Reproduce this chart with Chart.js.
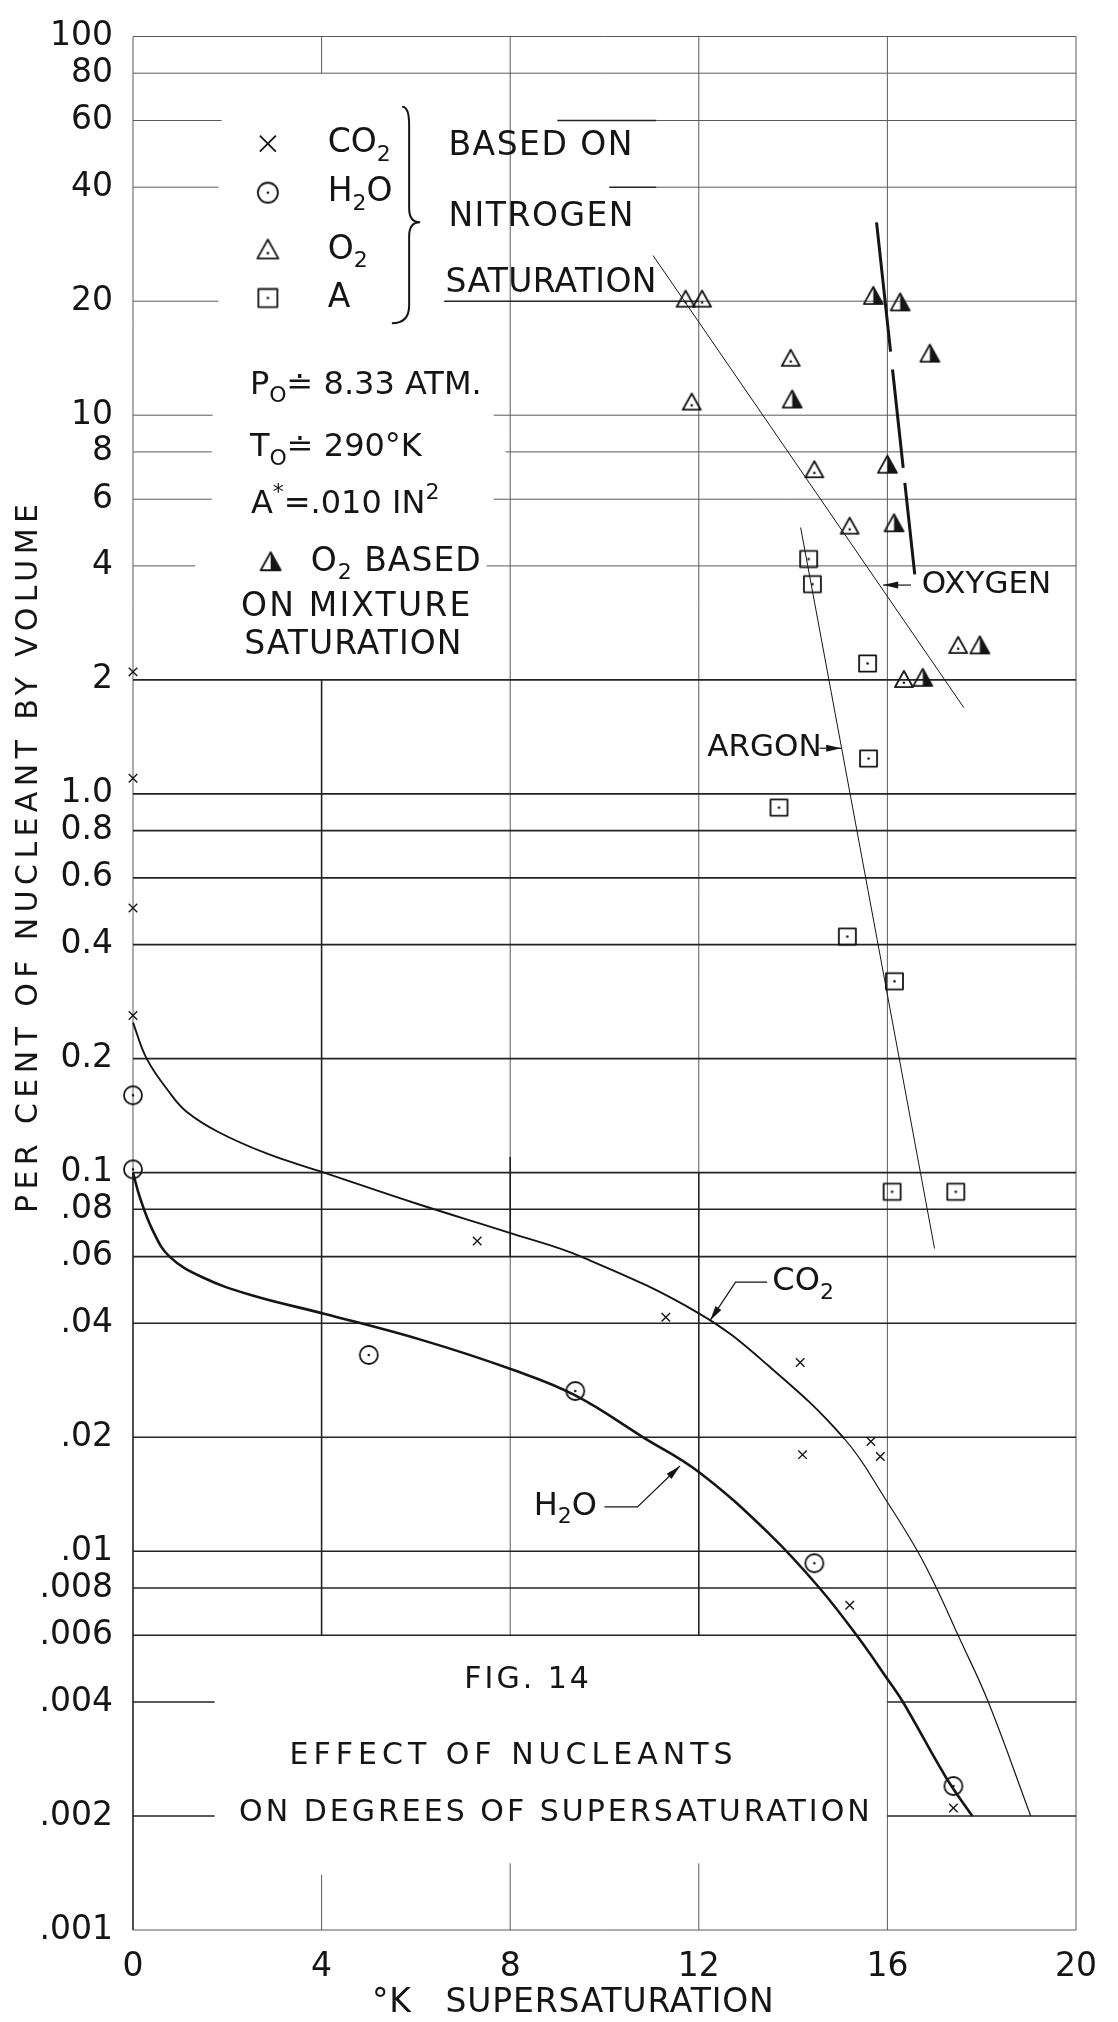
<!DOCTYPE html>
<html lang="en">
<head>
<meta charset="utf-8">
<title>Fig. 14 Effect of nucleants on degrees of supersaturation</title>
<script src="https://cdn.jsdelivr.net/npm/chart.js@4.4.1/dist/chart.umd.min.js"></script>
<style>
  html, body { margin: 0; padding: 0; background: #fff; }
  #box { position: relative; width: 1118px; height: 2022px; }
</style>
</head>
<body>
<div id="box"><canvas id="fig14"></canvas></div>
<script>
// ==== Data ====
const xTicks = [0, 4, 8, 12, 16, 20];
const yTicks = [100, 80, 60, 40, 20, 10, 8, 6, 4, 2, 1, 0.8, 0.6, 0.4, 0.2, 0.1,
  0.08, 0.06, 0.04, 0.02, 0.01, 0.008, 0.006, 0.004, 0.002, 0.001];
const yTickLabels = ["100", "80", "60", "40", "20", "10", "8", "6", "4", "2", "1.0", "0.8",
  "0.6", "0.4", "0.2", "0.1", ".08", ".06", ".04", ".02", ".01", ".008", ".006", ".004", ".002", ".001"];

// measured points (based on nitrogen saturation)
const co2X = [0, 0, 0, 0, 7.3, 11.3, 14.15, 14.2, 15.65, 15.85, 15.2, 20.25, 17.4];
const co2Y = [2.1, 1.1, 0.5, 0.26, 0.066, 0.0415, 0.0315, 0.018, 0.0195, 0.0178, 0.0072, 0.0065, 0.0021];
const h2oX = [0, 0, 5.0, 9.38, 14.45, 17.4];
const h2oY = [0.16, 0.102, 0.033, 0.0265, 0.0093, 0.0024];
const o2X = [11.72, 12.07, 11.85, 13.95, 14.45, 15.2, 16.35, 17.5];
const o2Y = [20.2, 20.2, 10.8, 14.1, 7.16, 5.08, 2.0, 2.46];
const argonX = [14.33, 14.41, 15.58, 15.6, 13.7, 15.15, 16.15, 16.1, 17.45];
const argonY = [4.17, 3.58, 2.21, 1.24, 0.92, 0.42, 0.32, 0.089, 0.089];
// O2 based on mixture saturation
const o2MixX = [15.7, 16.27, 16.9, 13.98, 16.0, 16.14, 16.75, 17.96];
const o2MixY = [20.6, 19.8, 14.5, 10.97, 7.38, 5.17, 2.02, 2.46];

// faired curves and straight fits
const co2CurveX = [0, 0.29, 0.77, 1.13, 1.81, 2.86, 4.05, 5.99, 8.09, 9.53, 12.0, 13.49, 15.09, 15.98, 16.64, 17.06, 17.5, 18.14, 19.04];
const co2CurveY = [0.249, 0.2, 0.163, 0.145, 0.128, 0.112, 0.1, 0.083, 0.0687, 0.0598, 0.0425, 0.0308, 0.0198, 0.0136, 0.01, 0.0079, 0.006, 0.004, 0.002];
const h2oCurveX = [0, 0.15, 0.42, 0.77, 1.46, 2.5, 4.05, 6.17, 8.07, 9.38, 10.82, 12.0, 13.5, 14.56, 15.39, 16.0, 16.33, 17.25, 17.8];
const h2oCurveY = [0.1, 0.0857, 0.0703, 0.0601, 0.053, 0.0475, 0.0424, 0.036, 0.0301, 0.0258, 0.02, 0.0162, 0.0111, 0.008, 0.0059, 0.0046, 0.004, 0.00252, 0.002];
const oxygenFitX = [11.03, 17.62];
const oxygenFitY = [26.4, 1.69];
const oxygenMixFitX = [15.77, 16.58];
const oxygenMixFitY = [32.3, 3.8];
const argonFitX = [14.16, 17.0];
const argonFitY = [5.05, 0.063];

// ==== Look ====
const INK = "#151515";
const FONT = '"DejaVu Sans", "Liberation Sans", sans-serif';

const pts = (xs, ys) => xs.map((x, i) => ({ x, y: ys[i] }));

// hand drawn symbols with the centre dot
function makeMarker(kind, size) {
  const n = Math.ceil(size + 8);
  const c = document.createElement("canvas");
  c.width = n; c.height = n;
  const g = c.getContext("2d");
  const m = n / 2, r = size / 2;
  g.strokeStyle = INK; g.fillStyle = INK; g.lineWidth = 1.8; g.lineJoin = "round";
  const dot = (dy) => { g.beginPath(); g.arc(m, m + dy, 1.3, 0, Math.PI * 2); g.fill(); };
  if (kind === "circle") {
    g.beginPath(); g.arc(m, m, r, 0, Math.PI * 2); g.stroke(); dot(0);
  } else if (kind === "square") {
    g.strokeRect(m - r, m - r * 0.95, size, size * 0.95); dot(0);
  } else {
    g.beginPath();
    g.moveTo(m, m - r); g.lineTo(m + r, m + r * 0.8); g.lineTo(m - r, m + r * 0.8); g.closePath();
    g.stroke();
    if (kind === "half") {
      g.beginPath();
      g.moveTo(m, m - r); g.lineTo(m + r, m + r * 0.8); g.lineTo(m, m + r * 0.8); g.closePath();
      g.fill();
    } else dot(r * 0.3);
  }
  return c;
}
const marks = {
  circle: makeMarker("circle", 18), square: makeMarker("square", 17),
  triangle: makeMarker("triangle", 18), half: makeMarker("half", 19)
};
const bigMarks = {
  circle: makeMarker("circle", 20), square: makeMarker("square", 19),
  triangle: makeMarker("triangle", 21), half: makeMarker("half", 20)
};

// ==== Paper grid (data units: x0, y0, x1, y1) ====
const gridLight = [
  [0, 100, 20, 100], [0, 80, 20, 80],
  [0, 60, 1.88, 60], [11.1, 60, 20, 60], [0, 40, 1.81, 40], [11.1, 40, 20, 40],
  [0, 20, 1.81, 20], [12, 20, 20, 20], [0, 10, 1.69, 10], [7.65, 10, 20, 10],
  [0, 8, 1.67, 8], [7.9, 8, 20, 8], [0, 6, 1.67, 6], [7.65, 6, 20, 6],
  [0, 4, 1.32, 4], [7.5, 4, 20, 4], [0, 0.001, 20, 0.001],
  [0, 0.1, 0, 100], [4, 80, 4, 100], [8, 0.006, 8, 100], [12, 0.1, 12, 100],
  [16, 0.001, 16, 100], [20, 0.001, 20, 100],
  [4, 0.001, 4, 0.0014], [8, 0.001, 8, 0.0015], [12, 0.001, 12, 0.0015]
];
const gridDark = [
  [9.0, 60, 11.1, 60], [10.1, 40, 11.1, 40], [6.6, 20, 12, 20],
  [0, 2, 20, 2], [0, 1, 20, 1], [0, 0.8, 20, 0.8], [0, 0.6, 20, 0.6], [0, 0.4, 20, 0.4],
  [0, 0.2, 20, 0.2], [0, 0.1, 20, 0.1], [0, 0.08, 20, 0.08], [0, 0.06, 20, 0.06],
  [0, 0.04, 20, 0.04], [0, 0.02, 20, 0.02], [0, 0.01, 20, 0.01], [0, 0.008, 20, 0.008],
  [0, 0.006, 20, 0.006], [0, 0.004, 1.73, 0.004], [16, 0.004, 20, 0.004],
  [0, 0.002, 1.73, 0.002], [16, 0.002, 20, 0.002],
  [0, 0.001, 0, 0.1], [4, 0.006, 4, 2], [12, 0.006, 12, 0.1], [8, 0.06, 8, 0.11]
];

// ==== Lettering ====
const notes = [
  { at: [4.13, 52.1], parts: [["CO"], ["2", "sub"]], size: 33 },
  { at: [4.13, 38.7], parts: [["H"], ["2", "sub"], ["O"]], size: 33 },
  { at: [4.13, 27.3], parts: [["O"], ["2", "sub"]], size: 33 },
  { at: [4.13, 20.4], parts: [["A"]], size: 33 },
  { at: [6.69, 51.2], parts: [["BASED ON"]], size: 33, sp: 1.5 },
  { at: [6.69, 33.3], parts: [["NITROGEN"]], size: 33, sp: 1.5 },
  { at: [6.63, 22.3], parts: [["SATURATION"]], size: 33, sp: 0.3 },
  { at: [2.48, 12.0], parts: [["P"], ["O", "sub"], ["≐ 8.33 ATM."]], size: 32 },
  { at: [2.48, 8.19], parts: [["T"], ["O", "sub"], ["≐ 290°K"]], size: 32 },
  { at: [2.5, 5.81], parts: [["A"], ["*", "sup"], ["=.010 IN"], ["2", "sup"]], size: 32 },
  { at: [3.77, 4.09], parts: [["O"], ["2", "sub"], [" BASED"]], size: 33, sp: 1 },
  { at: [2.29, 3.10], parts: [["ON MIXTURE"]], size: 33, sp: 2.2 },
  { at: [2.36, 2.46], parts: [["SATURATION"]], size: 33, sp: 1 },
  { at: [16.73, 3.56], parts: [["OXYGEN"]], size: 31 },
  { at: [12.18, 1.32], parts: [["ARGON"]], size: 31 },
  { at: [13.56, 0.0514], parts: [["CO"], ["2", "sub"]], size: 32 },
  { at: [8.5, 0.0131], parts: [["H"], ["2", "sub"], ["O"]], size: 32 },
  { at: [8.38, 0.00456], parts: [["FIG. 14"]], size: 30, sp: 3, align: "center" },
  { at: [8.07, 0.00288], parts: [["EFFECT OF NUCLEANTS"]], size: 30, sp: 5, align: "center" },
  { at: [8.97, 0.00203], parts: [["ON DEGREES OF SUPERSATURATION"]], size: 30, sp: 3, align: "center" }
];
const legendMarks = [
  { at: [2.86, 52.1], kind: "cross" }, { at: [2.86, 38.7], kind: "circle" },
  { at: [2.86, 27.3], kind: "triangle" }, { at: [2.86, 20.4], kind: "square" },
  { at: [2.92, 4.09], kind: "half" }
];
const leaders = [
  [[16.5, 3.56], [15.91, 3.56]],
  [[14.56, 1.32], [15.02, 1.32]],
  [[13.45, 0.0514], [12.78, 0.0514], [12.24, 0.0407]],
  [[10.0, 0.0131], [10.70, 0.0131], [11.6, 0.0168]]
];
const brace = { top: [5.71, 65.2], tip: [6.09, 32.3], bottom: [5.49, 17.5] };

function rich(ctx, px, py, parts, size, spacing, align) {
  ctx.textBaseline = "middle";
  ctx.textAlign = "left";
  ctx.letterSpacing = (spacing || 0) + "px";
  const pieces = parts.map(([t, m]) => {
    const s = m ? Math.round(size * 0.68) : size;
    ctx.font = `${s}px ${FONT}`;
    return { t, m, s, w: ctx.measureText(t).width };
  });
  const total = pieces.reduce((a, p) => a + p.w, 0);
  let cx = align === "center" ? px - total / 2 : px;
  for (const p of pieces) {
    ctx.font = `${p.s}px ${FONT}`;
    const dy = p.m === "sub" ? size * 0.34 : p.m === "sup" ? -size * 0.36 : 0;
    ctx.fillText(p.t, cx, py + dy);
    cx += p.w;
  }
  ctx.letterSpacing = "0px";
}

const drafting = {
  id: "drafting",
  beforeDatasetsDraw(chart) {
    const { ctx, scales: { x, y } } = chart;
    const segs = (list, color, w) => {
      ctx.strokeStyle = color; ctx.lineWidth = w;
      for (const [x0, y0, x1, y1] of list) {
        ctx.beginPath();
        ctx.moveTo(x.getPixelForValue(x0), y.getPixelForValue(y0));
        ctx.lineTo(x.getPixelForValue(x1), y.getPixelForValue(y1));
        ctx.stroke();
      }
    };
    ctx.save();
    segs(gridLight, "#5a5a5a", 1);
    segs(gridDark, "#232323", 1.6);
    ctx.restore();
  },
  afterDatasetsDraw(chart) {
    const { ctx, scales: { x, y } } = chart;
    const P = ([a, b]) => [x.getPixelForValue(a), y.getPixelForValue(b)];
    ctx.save();
    ctx.strokeStyle = INK; ctx.fillStyle = INK;

    // brace
    const [tx, ty] = P(brace.top), [kx, ky] = P(brace.tip), [bx, by] = P(brace.bottom);
    const sx = kx - 11;
    ctx.lineWidth = 2;
    ctx.beginPath();
    ctx.moveTo(tx, ty);
    ctx.quadraticCurveTo(sx, ty, sx, ty + 18);
    ctx.lineTo(sx, ky - 14);
    ctx.quadraticCurveTo(sx, ky, kx, ky);
    ctx.quadraticCurveTo(sx, ky, sx, ky + 14);
    ctx.lineTo(sx, by - 18);
    ctx.quadraticCurveTo(sx, by, bx, by);
    ctx.stroke();

    // leader lines with arrow heads
    ctx.lineWidth = 1.2;
    for (const path of leaders) {
      const p = path.map(P);
      ctx.beginPath();
      ctx.moveTo(p[0][0], p[0][1]);
      for (const q of p.slice(1)) ctx.lineTo(q[0], q[1]);
      ctx.stroke();
      const [ex, ey] = p[p.length - 1], [fx, fy] = p[p.length - 2];
      const a = Math.atan2(ey - fy, ex - fx);
      ctx.beginPath();
      ctx.moveTo(ex, ey);
      ctx.lineTo(ex - 15 * Math.cos(a) + 3.5 * Math.sin(a), ey - 15 * Math.sin(a) - 3.5 * Math.cos(a));
      ctx.lineTo(ex - 15 * Math.cos(a) - 3.5 * Math.sin(a), ey - 15 * Math.sin(a) + 3.5 * Math.cos(a));
      ctx.closePath();
      ctx.fill();
    }

    // legend symbols
    for (const m of legendMarks) {
      const [px, py] = P(m.at);
      if (m.kind === "cross") {
        ctx.lineWidth = 1.8;
        ctx.beginPath();
        ctx.moveTo(px - 8, py - 8); ctx.lineTo(px + 8, py + 8);
        ctx.moveTo(px + 8, py - 8); ctx.lineTo(px - 8, py + 8);
        ctx.stroke();
      } else {
        const img = bigMarks[m.kind];
        ctx.drawImage(img, px - img.width / 2, py - img.height / 2);
      }
    }

    // lettering
    for (const n of notes) {
      const [px, py] = P(n.at);
      rich(ctx, px, py, n.parts, n.size, n.sp, n.align);
    }
    ctx.restore();
  },
  afterDraw(chart) {
    const { ctx } = chart;
    ctx.save();
    ctx.fillStyle = INK;
    ctx.textBaseline = "middle";
    ctx.textAlign = "left";
    ctx.font = `30px ${FONT}`;
    ctx.letterSpacing = "5.4px";
    ctx.translate(29, 1213);
    ctx.rotate(-Math.PI / 2);
    ctx.fillText("PER CENT OF NUCLEANT BY VOLUME", 0, 0);
    ctx.restore();
    ctx.save();
    ctx.fillStyle = INK;
    ctx.textBaseline = "middle";
    ctx.textAlign = "left";
    ctx.font = `33px ${FONT}`;
    ctx.letterSpacing = "0.8px";
    ctx.fillText("°K   SUPERSATURATION", 372, 2003);
    ctx.restore();
  }
};

// ==== Chart ====
const markerSet = (label, xs, ys, style, radius) => ({
  label, data: pts(xs, ys), showLine: false, clip: false,
  pointStyle: style, pointRadius: radius, pointHoverRadius: radius,
  pointBorderColor: INK, pointBackgroundColor: INK, pointBorderWidth: 1.4
});
const lineSet = (label, xs, ys, width, extra) => Object.assign({
  label, data: pts(xs, ys), showLine: true, pointRadius: 0, pointHoverRadius: 0,
  borderColor: INK, borderWidth: width, fill: false, clip: false
}, extra || {});

new Chart(document.getElementById("fig14"), {
  type: "scatter",
  data: {
    datasets: [
      lineSet("CO2 curve", co2CurveX, co2CurveY, 2, {
        tension: 0.4,
        segment: { borderWidth: c => (c.p0.parsed.x >= 15 ? 1.2 : 1.9) }
      }),
      lineSet("H2O curve", h2oCurveX, h2oCurveY, 2.6, { tension: 0.4 }),
      lineSet("Oxygen", oxygenFitX, oxygenFitY, 1),
      lineSet("Oxygen (mixture)", oxygenMixFitX, oxygenMixFitY, 3, { borderDash: [130, 18, 99, 15, 200] }),
      lineSet("Argon", argonFitX, argonFitY, 1),
      markerSet("CO2", co2X, co2Y, "crossRot", 6),
      markerSet("H2O", h2oX, h2oY, marks.circle, 9),
      markerSet("O2", o2X, o2Y, marks.triangle, 9),
      markerSet("A", argonX, argonY, marks.square, 9),
      markerSet("O2 based on mixture saturation", o2MixX, o2MixY, marks.half, 10)
    ]
  },
  options: {
    responsive: true,
    maintainAspectRatio: false,
    animation: false,
    devicePixelRatio: 1,
    layout: { padding: { top: 17, right: 26, bottom: 0, left: 0 } },
    plugins: { legend: { display: false }, tooltip: { enabled: false } },
    scales: {
      x: {
        type: "linear", min: 0, max: 20,
        afterBuildTicks: s => { s.ticks = xTicks.map(v => ({ value: v })); },
        afterFit: s => { s.height = 92; },
        grid: { display: false, drawTicks: false },
        border: { display: false },
        ticks: {
          autoSkip: false, maxRotation: 0, padding: 21, color: INK,
          font: { family: FONT, size: 33, lineHeight: 1 },
          callback: v => String(v)
        }
      },
      y: {
        type: "logarithmic", min: 0.001, max: 100,
        afterBuildTicks: s => { s.ticks = yTicks.slice().reverse().map(v => ({ value: v })); },
        afterFit: s => { s.width = 133; },
        grid: { display: false, drawTicks: false },
        border: { display: false },
        ticks: {
          autoSkip: false, padding: 20, color: INK,
          font: { family: FONT, size: 33, lineHeight: 1 },
          callback: v => yTickLabels[yTicks.indexOf(v)]
        }
      }
    }
  },
  plugins: [drafting]
});
</script>
</body>
</html>
